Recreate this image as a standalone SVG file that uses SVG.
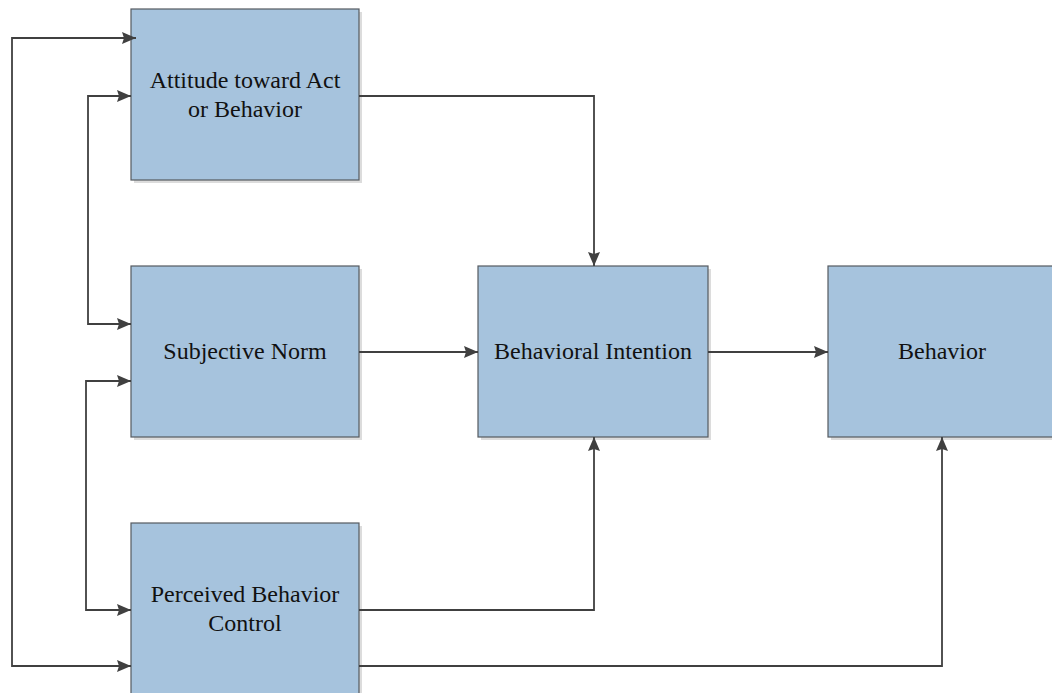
<svg xmlns="http://www.w3.org/2000/svg" width="1052" height="693" viewBox="0 0 1052 693">
  <style>
    .shadow { fill: #dcdcdc; }
    .box { fill: #a6c3dd; stroke: #555a60; stroke-width: 1.2; }
    .label { font-size: 24px; fill: #111; text-anchor: middle; }
    .wire { fill: none; stroke: #404040; stroke-width: 1.8; }
  </style>
  <defs>
    <marker id="arrow" viewBox="0 0 14 12" refX="14" refY="6" markerWidth="14" markerHeight="12" markerUnits="userSpaceOnUse" orient="auto-start-reverse">
      <path d="M0,0 L14,6 L0,12 L2,6 z" fill="#404040"/>
    </marker>
  </defs>
  <rect width="1052" height="693" fill="#ffffff"/>

  <g font-family="'Liberation Serif', 'Times New Roman', 'DejaVu Serif', serif">
    <g id="node-attitude">
      <rect class="shadow" x="134" y="12" width="228" height="171"/>
      <rect class="box" x="131" y="9" width="228" height="171"/>
      <text class="label" x="245" y="88">Attitude toward Act</text>
      <text class="label" x="245" y="117">or Behavior</text>
    </g>

    <g id="node-subjective-norm">
      <rect class="shadow" x="134" y="269" width="228" height="171"/>
      <rect class="box" x="131" y="266" width="228" height="171"/>
      <text class="label" x="245" y="359">Subjective Norm</text>
    </g>

    <g id="node-perceived-control">
      <rect class="shadow" x="134" y="526" width="228" height="171"/>
      <rect class="box" x="131" y="523" width="228" height="171"/>
      <text class="label" x="245" y="602">Perceived Behavior</text>
      <text class="label" x="245" y="631">Control</text>
    </g>

    <g id="node-intention">
      <rect class="shadow" x="481" y="269" width="230" height="171"/>
      <rect class="box" x="478" y="266" width="230" height="171"/>
      <text class="label" x="593" y="359">Behavioral Intention</text>
    </g>

    <g id="node-behavior">
      <rect class="shadow" x="831" y="269" width="228" height="171"/>
      <rect class="box" x="828" y="266" width="228" height="171"/>
      <text class="label" x="942" y="359">Behavior</text>
    </g>
  </g>

  <g id="connectors">
    <!-- correlations between the three antecedents -->
    <path class="wire" d="M131,666 H12 V38 H136" marker-start="url(#arrow)" marker-end="url(#arrow)"/>
    <path class="wire" d="M131,96 H88 V324 H131" marker-start="url(#arrow)" marker-end="url(#arrow)"/>
    <path class="wire" d="M131,381 H86 V610 H131" marker-start="url(#arrow)" marker-end="url(#arrow)"/>
    <!-- antecedents to intention -->
    <path class="wire" d="M359,96 H594 V266" marker-end="url(#arrow)"/>
    <path class="wire" d="M359,352 H478" marker-end="url(#arrow)"/>
    <path class="wire" d="M359,610 H594 V437" marker-end="url(#arrow)"/>
    <!-- intention and control to behavior -->
    <path class="wire" d="M708,352 H828" marker-end="url(#arrow)"/>
    <path class="wire" d="M359,666 H942 V437" marker-end="url(#arrow)"/>
  </g>
</svg>
